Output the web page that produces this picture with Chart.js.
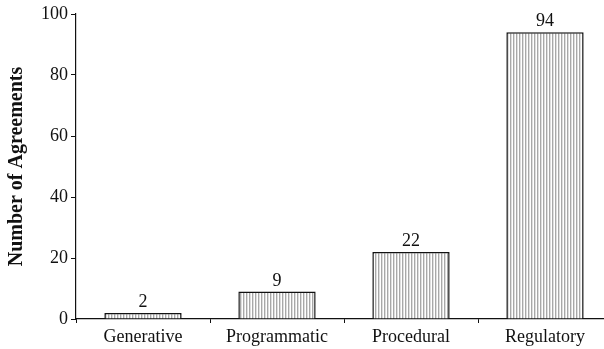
<!DOCTYPE html>
<html>
<head>
<meta charset="utf-8">
<script src="https://cdn.jsdelivr.net/npm/chart.js@4/dist/chart.umd.min.js"></script>
<style>
html,body{margin:0;padding:0;background:#fff;overflow:hidden;width:604px;height:349px;}
#wrap{position:relative;width:612px;height:349px;}
</style>
</head>
<body>
<div id="wrap"><canvas id="c" width="612" height="349"></canvas></div>
<script>
const categories = ["Generative", "Programmatic", "Procedural", "Regulatory"];
const agreements = [2, 9, 22, 94];
const yTicks = [0, 20, 40, 60, 80, 100];

function stripePattern() {
  const pc = document.createElement('canvas');
  pc.width = 3; pc.height = 4;
  const g = pc.getContext('2d');
  g.fillStyle = '#ffffff'; g.fillRect(0, 0, 3, 4);
  g.fillStyle = '#a8a8a8'; g.fillRect(0, 0, 1, 4);
  g.fillStyle = '#dedede'; g.fillRect(1, 0, 1, 4);
  return g.createPattern(pc, 'repeat');
}

const ctx = document.getElementById('c').getContext('2d');
const pattern = stripePattern();
const serif = "'Liberation Serif', 'Times New Roman', serif";

const valueLabels = {
  id: 'valueLabels',
  afterDatasetsDraw(chart) {
    const c = chart.ctx;
    const meta = chart.getDatasetMeta(0);
    c.save();
    c.font = "18px " + serif;
    c.fillStyle = '#111';
    c.textAlign = 'center';
    c.textBaseline = 'alphabetic';
    meta.data.forEach((bar, i) => {
      c.fillText(String(chart.data.datasets[0].data[i]), bar.x, bar.y - 6);
    });
    c.restore();
  }
};

new Chart(ctx, {
  type: 'bar',
  data: {
    labels: categories,
    datasets: [{
      data: agreements,
      backgroundColor: pattern,
      borderColor: '#111',
      borderWidth: 1.5,
      barPercentage: 0.577,
      categoryPercentage: 1.0
    }]
  },
  options: {
    responsive: false,
    animation: false,
    devicePixelRatio: 1,
    layout: { padding: { left: 0, right: 0, top: 14, bottom: 0 } },
    plugins: { legend: { display: false }, tooltip: { enabled: false } },
    scales: {
      x: {
        grid: { display: true, drawOnChartArea: false, drawTicks: true, tickLength: 4, color: '#111', offset: true },
        border: { display: true, color: '#111', width: 1.2 },
        ticks: { color: '#111', font: { family: serif, size: 18 }, padding: 3, maxRotation: 0 },
        afterFit(s) { s.height = 30; }
      },
      y: {
        min: 0, max: 100,
        afterBuildTicks(s) { s.ticks = yTicks.map(v => ({ value: v })); },
        grid: { display: true, drawOnChartArea: false, drawTicks: true, tickLength: 5, color: '#111' },
        border: { display: true, color: '#111', width: 1.2 },
        ticks: { color: '#111', font: { family: serif, size: 18 }, padding: 3 },
        title: { display: true, text: 'Number of Agreements', color: '#111', font: { family: serif, size: 20, weight: 'bold' }, padding: { top: 5, bottom: 4 } },
        afterFit(s) { s.width = 76; }
      }
    }
  },
  plugins: [valueLabels]
});
</script>
</body>
</html>
